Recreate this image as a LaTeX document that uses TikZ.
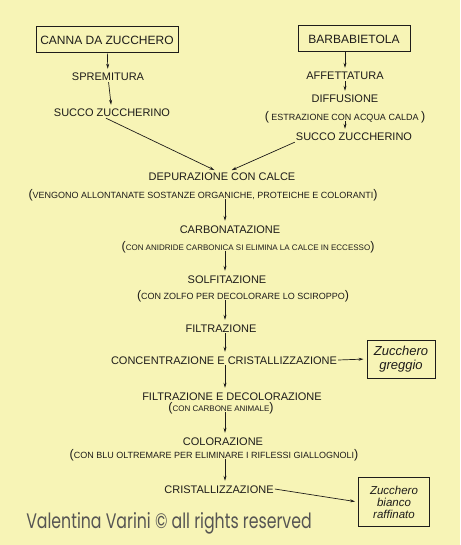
\documentclass[tikz,border=0pt]{standalone}
\usepackage{fontspec}
\setmainfont{Liberation Sans}
\newfontfamily\markfont{Poppins}
\usetikzlibrary{arrows.meta}
\definecolor{paper}{RGB}{247,244,182}
\definecolor{ink}{RGB}{30,28,26}
\newcommand{\opn}{{\fontsize{12.5}{12.5}\selectfont(}}
\newcommand{\cls}{{\fontsize{12.5}{12.5}\selectfont)}}
\begin{document}
\begin{tikzpicture}[x=1pt, y=-1pt,
	  every node/.style={text=ink, inner sep=1pt},
	  stage/.style={font=\fontsize{11}{12}\selectfont, text height=8pt, text depth=0pt},
	  remark/.style={font=\fontsize{9}{10}\selectfont, text height=6.5pt, text depth=0pt},
	  source/.style={draw=ink, line width=1pt, font=\fontsize{12}{14}\selectfont, minimum height=26pt},
	  product/.style={draw=ink, line width=1pt, align=center, font=\itshape},
	  flow/.style={draw=ink, line width=0.7pt, shorten >=3pt, -{Stealth[length=5pt,width=3pt]}}]
	  \fill[paper] (0,0) rectangle (460,545);
	  \coordinate (spine) at (225,0);
	  \node[source, minimum width=142pt] (cane) at (107,40) {CANNA DA ZUCCHERO};
	  \node[stage] (squeeze) at (108,77) {SPREMITURA};
	  \node[stage] (juicea) at (112,113) {SUCCO ZUCCHERINO};
	  \node[source, minimum width=112pt] (beet) at (354,39) {BARBABIETOLA};
	  \node[stage] (slice) at (345,76) {AFFETTATURA};
	  \node[stage] (diffuse) at (345,99) {DIFFUSIONE};
	  \node[remark] (extract) at (345,117) {\opn\ ESTRAZIONE CON ACQUA CALDA \cls};
	  \node[stage] (juiceb) at (354,137) {SUCCO ZUCCHERINO};
	  \node[stage] (purify) at (222,177) {DEPURAZIONE CON CALCE};
	  \node[remark] (purifynote) at (203,195) {\opn VENGONO ALLONTANATE SOSTANZE ORGANICHE, PROTEICHE E COLORANTI\cls};
	  \node[stage] (carbon) at (230,229) {CARBONATAZIONE};
	  \node[remark, font=\fontsize{8}{9}\selectfont] (carbonnote) at (248,247) {\opn CON ANIDRIDE CARBONICA SI ELIMINA LA CALCE IN ECCESSO\cls};
	  \node[stage] (sulph) at (227,279) {SOLFITAZIONE};
	  \node[remark] (sulphnote) at (243,296) {\opn CON ZOLFO PER DECOLORARE LO SCIROPPO\cls};
	  \node[stage] (filter) at (221,328) {FILTRAZIONE};
	  \node[stage] (concentr) at (224,360) {CONCENTRAZIONE E CRISTALLIZZAZIONE};
	  \node[product, minimum width=68pt, minimum height=38pt, font=\fontsize{13}{14}\selectfont\itshape] (raw) at (401,359) {Zucchero\\greggio};
	  \node[stage] (decolor) at (232,396) {FILTRAZIONE E DECOLORAZIONE};
	  \node[remark, font=\fontsize{8}{9}\selectfont] (decolornote) at (221,408) {\opn CON CARBONE ANIMALE\cls};
	  \node[stage] (colour) at (223,441) {COLORAZIONE};
	  \node[remark] (colournote) at (214,455) {\opn CON BLU OLTREMARE PER ELIMINARE I RIFLESSI GIALLOGNOLI\cls};
	  \node[stage] (crystal) at (219,489) {CRISTALLIZZAZIONE};
	  \node[product, minimum width=71pt, minimum height=49pt, font=\fontsize{11.5}{12}\selectfont\itshape] (white) at (394,502) {Zucchero\\bianco\\raffinato};
	  \node[font=\markfont\fontsize{21}{22}\selectfont, text=ink!75, xscale=0.75, transform shape] (mark) at (169,523) {Valentina Varini © all rights reserved};
	  \draw[flow] (cane) -- (squeeze);
	  \draw[flow] (squeeze) -- (juicea);
	  \draw[flow] (beet.south -| slice) -- (slice);
	  \draw[flow] (slice) -- (diffuse);
	  \draw[flow] (extract) -- (extract |- juiceb.north);
	  \draw[flow, shorten >=4pt] ([xshift=-6pt]juicea.south) -- ([xshift=-4pt]purify.north);
	  \draw[flow, shorten >=4pt] (juiceb.south west) -- ([xshift=6pt]purify.north);
	  \draw[flow] (purifynote.south -| spine) -- (carbon.north -| spine);
	  \draw[flow] (carbonnote.south -| spine) -- (sulph.north -| spine);
	  \draw[flow] (sulphnote.south -| spine) -- (filter.north -| spine);
	  \draw[flow] (filter.south -| spine) -- (concentr.north -| spine);
	  \draw[flow] (concentr.south -| spine) -- (decolor.north -| spine);
	  \draw[flow] (decolornote.south -| spine) -- (colour.north -| spine);
	  \draw[flow] (colournote.south -| spine) -- (crystal.north -| spine);
	  \draw[flow] (concentr.east) -- (raw.west);
	  \draw[flow] (crystal.east) -- (white.west);
	\end{tikzpicture}
\end{document}
